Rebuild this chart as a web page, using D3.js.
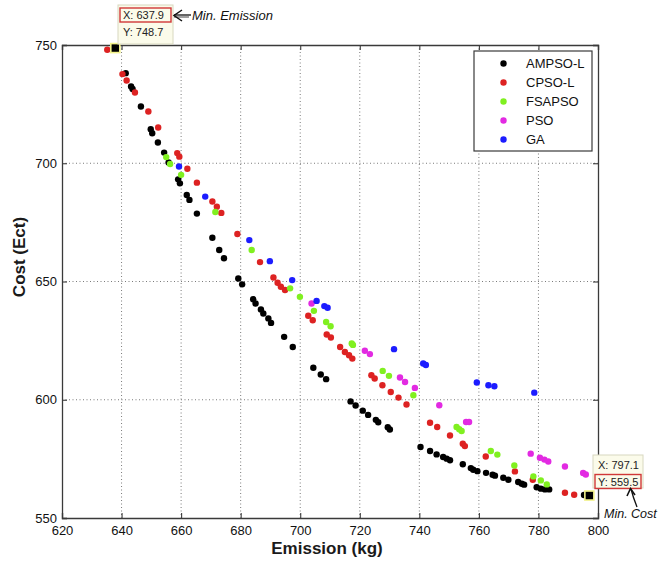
<!DOCTYPE html>
<html>
<head>
<meta charset="utf-8">
<script src="https://cdn.jsdelivr.net/npm/d3@7/dist/d3.min.js"></script>
<style>
  html, body { margin: 0; padding: 0; background: #fff; }
  svg { display: block; }
  text { font-family: "Liberation Sans", Arial, sans-serif; }
</style>
</head>
<body>
<svg id="chart" width="659" height="562"></svg>
<script>
// ---------- data (Emission kg, Cost) ----------
const seriesNames = ["AMPSO-L", "CPSO-L", "FSAPSO", "PSO", "GA"];
const seriesColors = ["#000000", "#dd2222", "#80f020", "#e22ae2", "#1c1cff"];

const ampsoL = [
  [641.4,738.1],[643.2,732.5],[643.7,731.4],[646.5,724.0],[649.8,714.4],[650.3,712.7],
  [652.2,708.8],[654.3,704.5],[655.8,700.3],[659.0,693.2],[659.6,691.5],[661.9,686.6],
  [662.8,684.5],[665.3,678.7],[670.5,668.5],[672.8,663.3],[674.4,659.8],[679.2,651.3],
  [680.5,648.8],[684.2,642.5],[685.0,640.7],[686.8,638.2],[687.6,636.5],[689.3,634.4],
  [690.2,632.5],[694.6,626.6],[697.5,622.3],[704.4,613.5],[706.9,610.7],[708.7,608.7],
  [716.9,599.3],[718.6,597.6],[721.0,595.4],[722.8,593.6],[725.4,591.5],[726.2,590.5],
  [729.4,588.4],[730.1,587.4],[740.4,580.0],[743.6,578.3],[745.8,576.9],[748.0,575.8],
  [749.2,575.1],[750.3,574.4],[754.6,572.7],[757.3,571.1],[758.1,570.4],[759.5,569.8],
  [762.4,569.1],[764.6,568.3],[765.4,567.9],[768.2,567.0],[769.9,566.2],[773.2,565.2],
  [774.4,564.5],[775.2,564.1],[779.4,563.0],[780.8,562.4],[782.2,562.1],[783.6,562.1],
  [795.3,559.7]
];
const cpsoL = [
  [635.2,748.0],[640.3,737.7],[641.7,735.0],[644.5,729.9],[649.0,721.9],[652.3,715.1],
  [658.7,704.3],[659.4,702.8],[662.1,697.7],[665.3,691.8],[670.5,683.8],[672.0,681.6],
  [673.5,679.0],[678.9,670.1],[686.5,658.2],[691.0,651.7],[692.4,649.5],[693.5,647.8],
  [694.9,646.4],[702.7,635.5],[704.2,633.6],[708.9,627.6],[710.3,626.3],[713.4,622.3],
  [715.0,620.2],[716.4,618.8],[717.5,617.4],[723.9,610.4],[725.0,609.0],[727.6,606.1],
  [730.4,603.3],[733.0,600.9],[735.7,598.0],[743.6,590.3],[746.0,588.5],[750.3,584.9],
  [754.6,581.4],[755.3,580.4],[762.3,576.0],[772.1,569.7],[778.1,566.2],[788.9,560.7],
  [792.0,559.8]
];
const fsapso = [
  [655.0,702.6],[656.3,699.7],[660.0,695.1],[671.5,679.4],[683.7,663.3],[696.6,647.1],
  [699.9,643.5],[704.6,637.6],[708.7,632.9],[710.2,631.1],[717.3,623.8],[717.7,623.2],
  [727.7,612.2],[729.8,610.1],[738.0,601.9],[752.5,588.5],[753.4,587.5],[754.2,586.8],
  [764.0,578.3],[766.2,576.8],[771.9,572.2],[778.3,567.6],[780.8,565.9],[782.8,564.2]
];
const pso = [
  [703.8,640.7],[721.7,620.7],[723.4,619.3],[733.5,609.4],[735.2,607.5],[738.5,605.0],
  [746.7,597.7],[755.7,590.6],[756.7,590.6],[777.4,577.2],[780.5,575.5],[782.0,574.7],
  [783.3,573.9],[788.9,571.8],[795.0,569.0],[795.9,568.4]
];
const ga = [
  [659.3,698.6],[668.1,685.9],[682.9,667.5],[689.8,658.6],[697.3,650.6],[705.5,641.8],
  [708.1,639.6],[709.2,638.9],[731.5,621.4],[741.3,615.3],[742.2,614.7],[759.3,607.3],
  [763.2,606.1],[765.2,605.7],[778.6,603.0]
];
const allSeries = [ampsoL, cpsoL, fsapso, pso, ga];

// annotated extreme points
const minEmission = [637.9, 748.7];
const minCost = [797.1, 559.5];

const xTicks = [620, 640, 660, 680, 700, 720, 740, 760, 780, 800];
const yTicks = [550, 600, 650, 700, 750];
const xDomain = [620, 800];
const yDomain = [550, 750];

// ---------- layout ----------
const svg = d3.select("#chart");
const L = 62, T = 45, R = 598, B = 518;
const x = d3.scaleLinear().domain(xDomain).range([L, R]);
const y = d3.scaleLinear().domain(yDomain).range([B, T]);

// grid
const grid = svg.append("g").attr("stroke", "#7a7a7a").attr("stroke-width", 1)
  .attr("stroke-dasharray", "1,2.5");
xTicks.slice(1, -1).forEach(v => {
  grid.append("line").attr("x1", x(v)).attr("x2", x(v)).attr("y1", T).attr("y2", B);
});
yTicks.slice(1, -1).forEach(v => {
  grid.append("line").attr("x1", L).attr("x2", R).attr("y1", y(v)).attr("y2", y(v));
});

// points
allSeries.forEach((s, i) => {
  svg.append("g").selectAll("circle").data(s).join("circle")
    .attr("cx", d => x(d[0])).attr("cy", d => y(d[1])).attr("r", 3.2)
    .attr("fill", seriesColors[i]);
});

// axes (box with inward ticks)
const axColor = "#3a3a3a";
const tickLen = 5;
const gx = svg.append("g").attr("transform", `translate(0,${B})`)
  .call(d3.axisBottom(x).tickValues(xTicks).tickSize(-tickLen).tickPadding(7).tickFormat(d3.format("d")));
const gxTop = svg.append("g").attr("transform", `translate(0,${T})`)
  .call(d3.axisTop(x).tickValues(xTicks).tickSize(-tickLen).tickFormat(""));
const gy = svg.append("g").attr("transform", `translate(${L},0)`)
  .call(d3.axisLeft(y).tickValues(yTicks).tickSize(-tickLen).tickPadding(5).tickFormat(d3.format("d")));
const gyR = svg.append("g").attr("transform", `translate(${R},0)`)
  .call(d3.axisRight(y).tickValues(yTicks).tickSize(-tickLen).tickFormat(""));
[gx, gxTop, gy, gyR].forEach(g => {
  g.select(".domain").attr("stroke", axColor).attr("stroke-width", 1.3);
  g.selectAll(".tick line").attr("stroke", axColor).attr("stroke-width", 1.1);
  g.selectAll(".tick text").attr("fill", "#111").attr("font-size", 13)
    .attr("font-family", "'Liberation Sans', Arial, sans-serif");
});
gx.selectAll(".tick text").attr("dy", "0.75em");

// axis titles
svg.append("text").attr("x", 327).attr("y", 554).attr("text-anchor", "middle")
  .attr("font-size", 17).attr("font-weight", "bold").attr("fill", "#1a1a1a").text("Emission (kg)");
svg.append("text").attr("transform", "translate(25,257) rotate(-90)")
  .attr("text-anchor", "middle").attr("font-size", 17).attr("font-weight", "bold")
  .attr("fill", "#1a1a1a").text("Cost (Ect)");

// legend
const lg = svg.append("g");
lg.append("rect").attr("x", 474).attr("y", 51).attr("width", 118).attr("height", 100)
  .attr("fill", "#fff").attr("stroke", axColor).attr("stroke-width", 1.2);
seriesNames.forEach((n, i) => {
  const cy = 63.5 + i * 19;
  lg.append("circle").attr("cx", 503.5).attr("cy", cy).attr("r", 3.2).attr("fill", seriesColors[i]);
  lg.append("text").attr("x", 526).attr("y", cy + 4.6).attr("font-size", 13).attr("fill", "#111").text(n);
});

// ---------- data tips ----------
function tipBox(bx, by, bw, bh, xs, ys, redRow) {
  const g = svg.append("g");
  g.append("rect").attr("x", bx).attr("y", by).attr("width", bw).attr("height", bh)
    .attr("fill", "#fbfbea").attr("stroke", "#d8d8c0").attr("stroke-width", 1);
  const rowY = [by + 10, by + 26.5];
  g.append("rect").attr("x", bx + 2).attr("y", rowY[redRow] - 7).attr("width", bw - 4).attr("height", 14)
    .attr("fill", "none").attr("stroke", "#d03838").attr("stroke-width", 1.4);
  g.append("text").attr("x", bx + 5).attr("y", rowY[0] + 4).attr("font-size", 11).attr("fill", "#222").text(xs);
  g.append("text").attr("x", bx + 5).attr("y", rowY[1] + 4).attr("font-size", 11).attr("fill", "#222").text(ys);
}
function markSquare(p) {
  svg.append("rect").attr("x", x(p[0]) - 4.5).attr("y", y(p[1]) - 4.5).attr("width", 9).attr("height", 9)
    .attr("fill", "#000").attr("stroke", "#f2f28a").attr("stroke-width", 1.6);
}
markSquare(minEmission);
markSquare(minCost);

tipBox(118, 5, 55, 39, "X: " + minEmission[0].toFixed(1), "Y: " + minEmission[1].toFixed(1), 0);
tipBox(593, 455, 50, 33, "X: " + minCost[0].toFixed(1), "Y: " + minCost[1].toFixed(1), 1);

// arrows + notes
const ar = svg.append("g").attr("stroke", "#111").attr("fill", "none").attr("stroke-width", 1.3);
ar.append("line").attr("x1", 174).attr("y1", 15).attr("x2", 191).attr("y2", 15);
ar.append("line").attr("x1", 174).attr("y1", 17).attr("x2", 189).attr("y2", 17).attr("stroke-width", 0.8);
ar.append("path").attr("d", "M182,10 L174,15.5 L182,21").attr("stroke-width", 1.5);
svg.append("text").attr("x", 192).attr("y", 19.5).attr("font-family", "'Liberation Serif', 'Times New Roman', serif")
  .attr("font-style", "italic").attr("font-size", 13).attr("fill", "#111").text("Min. Emission");

ar.append("path").attr("d", "M637,507 Q633,497 631,489");
ar.append("path").attr("d", "M627,496 L630.5,488.5 L635,495").attr("stroke-width", 1.6);
svg.append("text").attr("x", 604).attr("y", 518).attr("font-family", "'Liberation Serif', 'Times New Roman', serif")
  .attr("font-style", "italic").attr("font-size", 12.5).attr("fill", "#111").text("Min. Cost");
</script>
</body>
</html>
